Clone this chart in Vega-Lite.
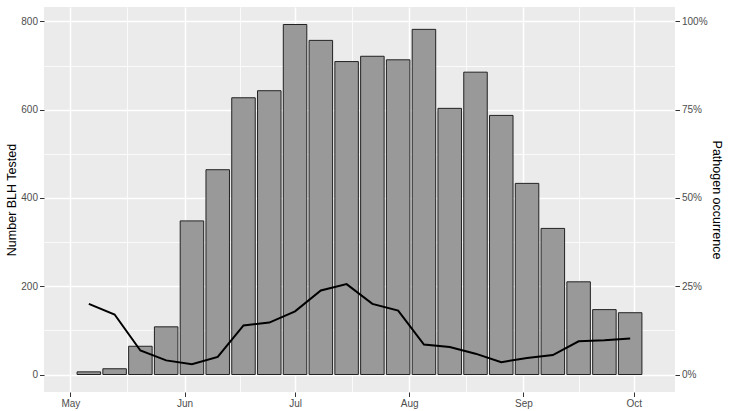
{
  "$schema": "https://vega.github.io/schema/vega-lite/v6.json",
  "autosize": {"type": "none"},
  "padding": {"left": 44, "top": 7, "right": 55, "bottom": 19},
  "width": 631,
  "height": 385,
  "background": "white",
  "data": {
    "values": [
      {"date": "2019-05-06", "tested": 6, "occurrence": 0.200},
      {"date": "2019-05-13", "tested": 13, "occurrence": 0.170},
      {"date": "2019-05-20", "tested": 64, "occurrence": 0.068},
      {"date": "2019-05-27", "tested": 108, "occurrence": 0.040},
      {"date": "2019-06-03", "tested": 348, "occurrence": 0.029},
      {"date": "2019-06-10", "tested": 464, "occurrence": 0.050},
      {"date": "2019-06-17", "tested": 627, "occurrence": 0.139},
      {"date": "2019-06-24", "tested": 643, "occurrence": 0.147},
      {"date": "2019-07-01", "tested": 793, "occurrence": 0.179},
      {"date": "2019-07-08", "tested": 757, "occurrence": 0.238},
      {"date": "2019-07-15", "tested": 709, "occurrence": 0.256},
      {"date": "2019-07-22", "tested": 721, "occurrence": 0.200},
      {"date": "2019-07-29", "tested": 713, "occurrence": 0.181},
      {"date": "2019-08-05", "tested": 782, "occurrence": 0.085},
      {"date": "2019-08-12", "tested": 603, "occurrence": 0.078},
      {"date": "2019-08-19", "tested": 685, "occurrence": 0.059},
      {"date": "2019-08-26", "tested": 587, "occurrence": 0.035},
      {"date": "2019-09-02", "tested": 433, "occurrence": 0.047},
      {"date": "2019-09-09", "tested": 331, "occurrence": 0.055},
      {"date": "2019-09-16", "tested": 210, "occurrence": 0.094},
      {"date": "2019-09-23", "tested": 147, "occurrence": 0.097},
      {"date": "2019-09-30", "tested": 140, "occurrence": 0.102}
    ],
    "format": {"parse": {"date": "utc:'%Y-%m-%d'"}}
  },
  "encoding": {
    "x": {
      "field": "date",
      "type": "temporal",
      "scale": {
        "type": "utc",
        "nice": false,
        "domain": [
          {"year": 2019, "month": 4, "date": 25, "hours": 4, "minutes": 26, "utc": true},
          {"year": 2019, "month": 10, "date": 10, "hours": 19, "minutes": 34, "utc": true}
        ]
      },
      "axis": {
        "title": null,
        "grid": true,
        "values": [
          {"year": 2019, "month": 5, "date": 1, "utc": true},
          {"year": 2019, "month": 5, "date": 16, "hours": 12, "utc": true},
          {"year": 2019, "month": 6, "date": 1, "utc": true},
          {"year": 2019, "month": 6, "date": 16, "utc": true},
          {"year": 2019, "month": 7, "date": 1, "utc": true},
          {"year": 2019, "month": 7, "date": 16, "hours": 12, "utc": true},
          {"year": 2019, "month": 8, "date": 1, "utc": true},
          {"year": 2019, "month": 8, "date": 16, "hours": 12, "utc": true},
          {"year": 2019, "month": 9, "date": 1, "utc": true},
          {"year": 2019, "month": 9, "date": 16, "utc": true},
          {"year": 2019, "month": 10, "date": 1, "utc": true}
        ],
        "labelExpr": "utcdate(datum.value) === 1 ? utcFormat(datum.value, '%b') : ''",
        "gridWidth": {"condition": {"test": "utcdate(datum.value) === 1", "value": 1.5}, "value": 0.8},
        "tickOpacity": {"condition": {"test": "utcdate(datum.value) === 1", "value": 1}, "value": 0},
        "labelAngle": 0,
        "labelAlign": "center"
      }
    }
  },
  "layer": [
    {
      "mark": {"type": "bar", "size": 23.5, "fill": "#999999", "stroke": "#222222", "strokeWidth": 1},
      "encoding": {
        "y": {
          "field": "tested",
          "type": "quantitative",
          "scale": {"domain": [-39.65, 832.65], "nice": false, "zero": false},
          "axis": {
            "title": "Number BLH Tested",
            "orient": "left",
            "values": [0, 100, 200, 300, 400, 500, 600, 700, 800],
            "grid": true,
            "labelExpr": "datum.value % 200 === 0 ? datum.label : ''",
            "gridWidth": {"condition": {"test": "datum.value % 200 === 0", "value": 1.5}, "value": 0.8},
            "tickOpacity": {"condition": {"test": "datum.value % 200 === 0", "value": 1}, "value": 0},
            "titlePadding": 2
          }
        }
      }
    },
    {
      "mark": {"type": "line", "color": "#000000", "strokeWidth": 2},
      "encoding": {
        "y": {
          "field": "occurrence",
          "type": "quantitative",
          "scale": {"domain": [-0.04956, 1.04081], "nice": false, "zero": false},
          "axis": {
            "title": "Pathogen occurrence",
            "orient": "right",
            "values": [0, 0.25, 0.5, 0.75, 1],
            "format": ".0%",
            "grid": false,
            "titlePadding": 2
          }
        }
      }
    }
  ],
  "resolve": {"scale": {"y": "independent"}, "axis": {"y": "independent"}},
  "config": {
    "view": {"fill": "#EBEBEB", "stroke": null},
    "axis": {
      "domain": false,
      "gridColor": "#FFFFFF",
      "labelFont": "Liberation Sans",
      "titleFont": "Liberation Sans",
      "labelFontSize": 10,
      "titleFontSize": 12.5,
      "titleFontWeight": "normal",
      "labelColor": "#4D4D4D",
      "titleColor": "#000000",
      "tickColor": "#333333",
      "tickSize": 4.5,
      "tickWidth": 1,
      "labelPadding": 2
    }
  }
}
